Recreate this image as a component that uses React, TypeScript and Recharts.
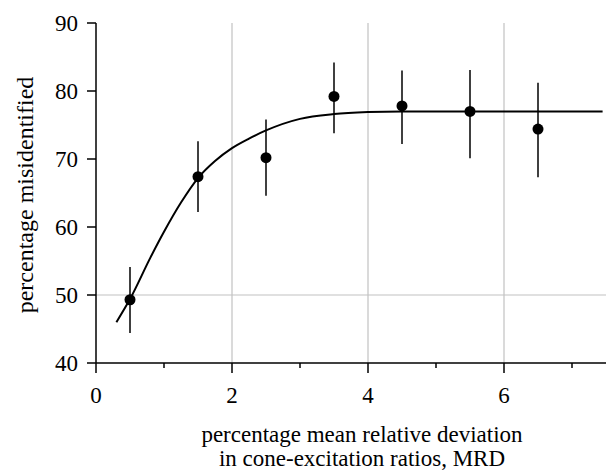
import React from "react";
// Percentage misidentified vs. MRD, with fitted saturation curve

import { ComposedChart, XAxis, YAxis, Scatter, Line, ErrorBar, ReferenceLine, Label } from "recharts";

const FONT = '"Liberation Serif", "Times New Roman", serif';
const FS = 23;

const mrd = [0.5, 1.5, 2.5, 3.5, 4.5, 5.5, 6.5];
const pct = [49.3, 67.4, 70.2, 79.2, 77.8, 77.0, 74.4];
const errLow = [44.4, 62.2, 64.6, 73.8, 72.2, 70.1, 67.3];
const errHigh = [54.1, 72.6, 75.8, 84.2, 83.0, 83.1, 81.2];

const curveX = [0.3, 0.5, 0.8, 1.0, 1.25, 1.5, 1.75, 2.0, 2.25, 2.5, 3.0, 3.5, 4.0, 4.5, 5.0, 6.0, 7.0, 7.45];
const curveY = [46.0, 49.4, 55.5, 59.3, 63.6, 67.2, 69.7, 71.6, 73.0, 74.2, 75.9, 76.6, 76.9, 77.0, 77.0, 77.0, 77.0, 77.0];

const xTicks = [0, 1, 2, 3, 4, 5, 6, 7];
const xLabelled = [0, 2, 4, 6];
const yTicks = [40, 50, 60, 70, 80, 90];
const xGrid = [2, 4, 6];
const yGrid = [50];

const points = mrd.map((x, i) => ({
  x,
  y: pct[i],
  err: [pct[i] - errLow[i], errHigh[i] - pct[i]],
}));
const curve = curveX.map((x, i) => ({ x, y: curveY[i] }));

const axisStroke = { stroke: "#000", strokeWidth: 1.5 };

function BottomTick(props: any) {
  const { x, y, payload } = props;
  const major = xLabelled.includes(payload.value);
  return (
    <g>
      <line x1={x} x2={x} y1={y} y2={y + (major ? 10 : 5)} stroke="#000" strokeWidth={1.5} />
      {major && (
        <text x={x} y={y + 40} textAnchor="middle" fontSize={FS} fontFamily={FONT} fill="#000">
          {payload.value}
        </text>
      )}
    </g>
  );
}

function TopTick(props: any) {
  const { x, y, payload } = props;
  const major = xLabelled.includes(payload.value);
  return <line x1={x} x2={x} y1={y} y2={y - (major ? 9 : 5)} stroke="#000" strokeWidth={1.5} />;
}

function LeftTick(props: any) {
  const { x, y, payload } = props;
  return (
    <g>
      <line x1={x - 9} x2={x} y1={y} y2={y} stroke="#000" strokeWidth={1.5} />
      <text x={x - 18} y={y} dy="0.34em" textAnchor="end" fontSize={FS} fontFamily={FONT} fill="#000">
        {payload.value}
      </text>
    </g>
  );
}

function RightTick(props: any) {
  const { x, y } = props;
  return <line x1={x} x2={x + 5} y1={y} y2={y} stroke="#000" strokeWidth={1.5} />;
}

function XTitle(props: any) {
  const vb = props.viewBox;
  const cx = vb.x + vb.width / 2 + 11;
  return (
    <text x={cx} textAnchor="middle" fontSize={FS} fontFamily={FONT} fill="#000">
      <tspan x={cx} y={vb.y + 79}>percentage mean relative deviation</tspan>
      <tspan x={cx} y={vb.y + 103}>in cone-excitation ratios, MRD</tspan>
    </text>
  );
}

function YTitle(props: any) {
  const vb = props.viewBox;
  const cx = vb.x + 25;
  const cy = 195;
  return (
    <text x={cx} y={cy} dy="0.32em" textAnchor="middle" fontSize={24} fontFamily={FONT} fill="#000" transform={`rotate(-90 ${cx} ${cy})`}>
      percentage misidentified
    </text>
  );
}

const Dot = (props: any) => <circle cx={props.cx} cy={props.cy} r={5.5} fill="#000" />;

export default function App() {
  return (
    <div style={{ position: "absolute", left: 0, top: 0, background: "#fff" }}>
      <ComposedChart width={611} height={472} margin={{ top: 23, right: 5, bottom: 0, left: 0 }}>
        <XAxis
          xAxisId="b"
          type="number"
          dataKey="x"
          domain={[0, 7.5]}
          ticks={xTicks}
          interval={0}
          allowDataOverflow
          height={109}
          tickSize={0}
          tickMargin={0}
          tickLine={false}
          axisLine={axisStroke}
          tick={<BottomTick />}
        >
          <Label content={<XTitle />} />
        </XAxis>
        <XAxis
          xAxisId="t"
          orientation="top"
          type="number"
          dataKey="x"
          domain={[0, 7.5]}
          ticks={xTicks}
          interval={0}
          allowDataOverflow
          height={0}
          tickSize={0}
          tickMargin={0}
          tickLine={false}
          axisLine={axisStroke}
          tick={<TopTick />}
        />
        <YAxis
          yAxisId="l"
          type="number"
          domain={[40, 90]}
          ticks={yTicks}
          interval={0}
          allowDataOverflow
          width={96}
          tickSize={0}
          tickMargin={0}
          tickLine={false}
          axisLine={axisStroke}
          tick={<LeftTick />}
        >
          <Label content={<YTitle />} />
        </YAxis>
        <YAxis
          yAxisId="r"
          orientation="right"
          type="number"
          domain={[40, 90]}
          ticks={yTicks}
          interval={0}
          allowDataOverflow
          width={0}
          tickSize={0}
          tickMargin={0}
          tickLine={false}
          axisLine={axisStroke}
          tick={<RightTick />}
        />
        {xGrid.map((v) => (
          <ReferenceLine key={"gx" + v} x={v} xAxisId="b" yAxisId="l" stroke="#c2c2c2" strokeWidth={1.2} />
        ))}
        {yGrid.map((v) => (
          <ReferenceLine key={"gy" + v} y={v} xAxisId="b" yAxisId="l" stroke="#c2c2c2" strokeWidth={1.2} />
        ))}
        <Line
          data={curve}
          xAxisId="b"
          yAxisId="l"
          dataKey="y"
          type="monotone"
          stroke="#000"
          strokeWidth={2}
          dot={false}
          activeDot={false}
          isAnimationActive={false}
        />
        <Scatter data={points} xAxisId="b" yAxisId="l" dataKey="y" shape={<Dot />} isAnimationActive={false}>
          <ErrorBar dataKey="err" direction="y" width={0} stroke="#000" strokeWidth={1.5} isAnimationActive={false} />
        </Scatter>
      </ComposedChart>
    </div>
  );
}
